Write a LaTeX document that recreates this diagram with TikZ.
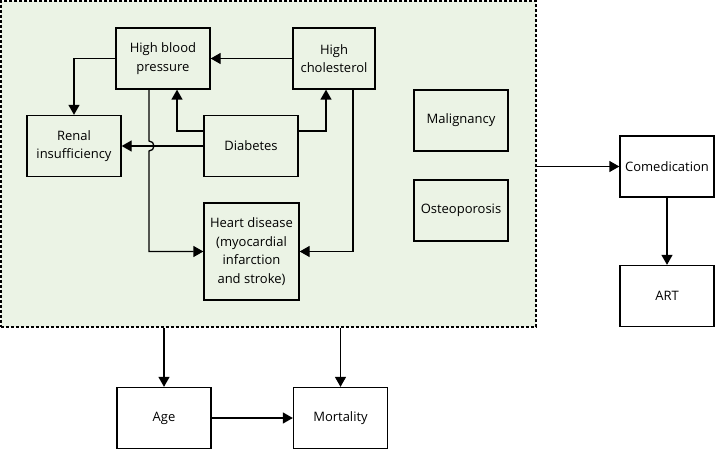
\documentclass[tikz,border=0pt]{standalone}
\usepackage{fontspec}
\setmainfont{Open Sans}
\usetikzlibrary{arrows.meta, positioning, calc}
\definecolor{bggreen}{HTML}{EBF3E5}
\tikzset{%
	box/.style={draw, rectangle, line width=1.3pt, minimum width=94pt, minimum height=61pt,%
		inner sep=0pt, align=center, font=\fontsize{13}{18.5}\selectfont},
	link/.style={line width=1.3pt, -{Triangle[length=10pt, width=11pt]}},
	zone/.style={draw, rectangle, line width=1.2pt, dash pattern=on 3pt off 2pt,%
		fill=bggreen, inner sep=0pt}
}
\begin{document}
\begin{tikzpicture}[x=1pt, y=-1pt]
	\useasboundingbox (0,0) rectangle (715,449);
	\node[zone, minimum width=535pt, minimum height=326pt] (zone) at (268.5,164) {};

	\node[box]                      (hbp)   at (163,58.5)  {High blood\\pressure};
	\node[box, minimum width=82pt]  (hc)    at (334,58.5)  {High\\cholesterol};
	\node[box]                      (renal) at (74,146)    {Renal\\insufficiency};
	\node[box]                      (diab)  at (251,146)   {Diabetes};
	\node[box, minimum width=95pt, minimum height=97pt]
	                                (heart) at (251.5,251.5) {Heart disease\\(myocardial\\infarction\\and stroke)};
	\node[box]                      (malig) at (461,120.5) {Malignancy};
	\node[box]                      (osteo) at (461,210.5) {Osteoporosis};
	\node[box]                      (comed) at (667,166.5) {Comedication};
	\node[box]                      (art)   at (667,296)   {ART};
	\node[box]                      (age)   at (164,418)   {Age};
	\node[box]                      (mort)  at (340.5,418) {Mortality};

	\coordinate (jmp) at ([xshift=-14pt]hbp.south |- diab.west);

	\draw[link] (hbp.west) -| (renal.north);
	\draw[link] (hc.west) -- (hbp.east);
	\draw[link] ([yshift=15pt]diab.west) -| ([xshift=14pt]hbp.south);
	\draw[link] ([yshift=15pt]diab.east) -| ([xshift=-8pt]hc.south);
	\draw[link] (diab.west) -- (renal.east);
	\draw[link] ([xshift=-14pt]hbp.south) -- ([yshift=5pt]jmp)
		arc[start angle=90, end angle=-90, radius=5pt] |- (heart.west);
	\draw[link] ([xshift=19pt]hc.south) |- (heart.east);

	\draw[link] (zone.east |- comed.west) -- (comed.west);
	\draw[link] (comed) -- (art);
	\draw[link] (zone.south -| age.north) -- (age.north);
	\draw[link] (zone.south -| mort.north) -- (mort.north);
	\draw[link] (age) -- (mort);
\end{tikzpicture}
\end{document}
